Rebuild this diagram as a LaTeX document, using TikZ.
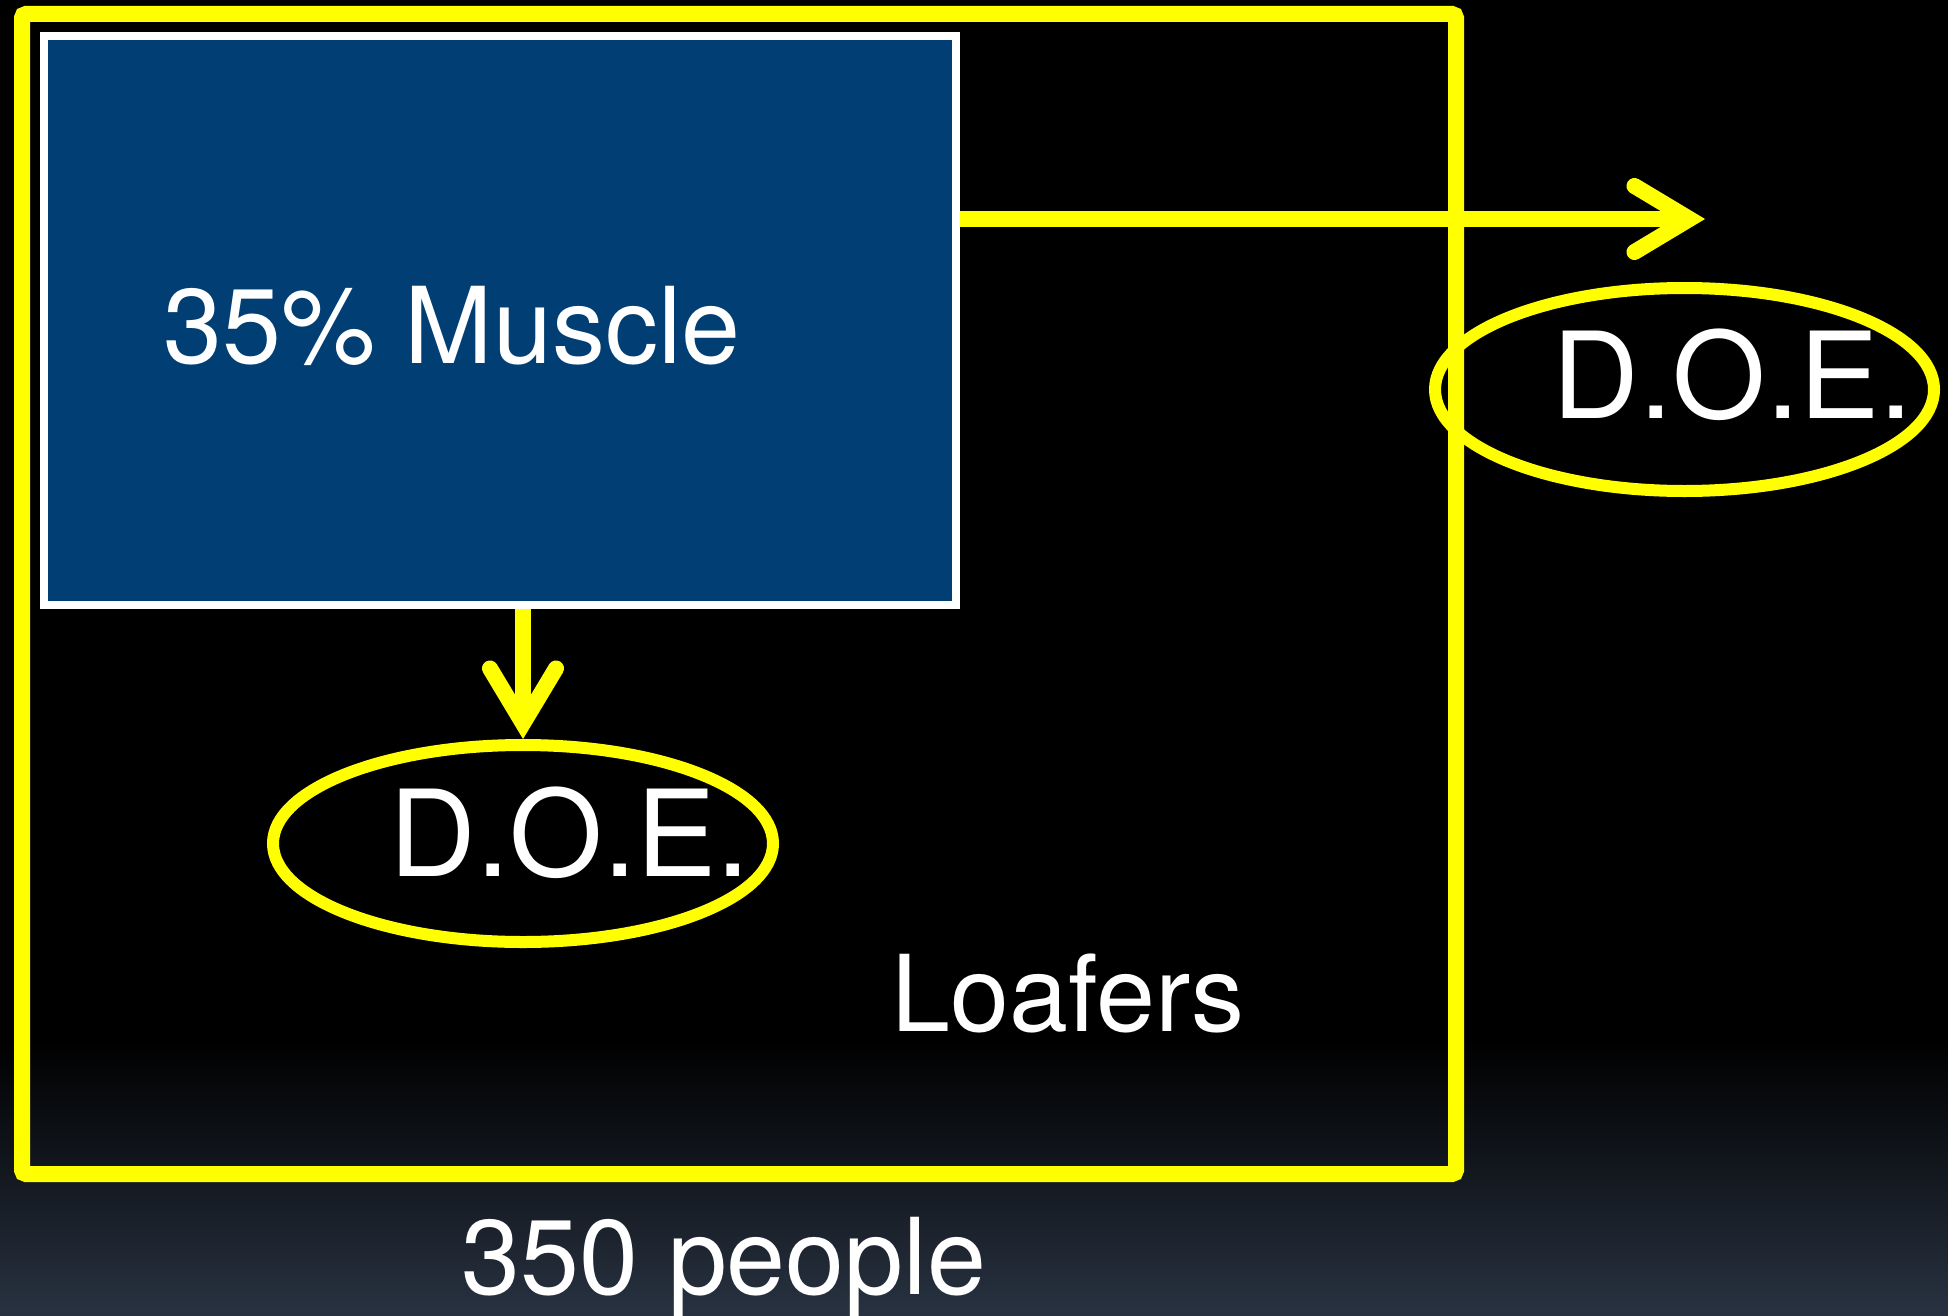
\documentclass[tikz,border=0pt]{standalone}
\usepackage{fontspec}
\setmainfont{TeX Gyre Heros}
\usetikzlibrary{arrows.meta,shapes.geometric}
\definecolor{doeyellow}{RGB}{255,255,0}
\definecolor{musclebg}{RGB}{0,62,116}
\definecolor{bgbottom}{RGB}{40,50,65}
\begin{document}
\begin{tikzpicture}[x=1pt,y=-1pt,
  popframe/.style={draw=doeyellow, line width=16pt, rounded corners=4pt, inner sep=0pt,
    minimum width=1434pt, minimum height=1160pt},
  musclebox/.style={draw=white, line width=8pt, fill=musclebg, inner sep=0pt,
    minimum width=912pt, minimum height=569pt},
  doeellipse/.style={ellipse, draw=doeyellow, line width=12pt, inner sep=0pt},
  flow/.style={draw=doeyellow, line width=16pt,
    -{Straight Barb[length=55pt,width=66pt,line cap=round,line join=miter]}},
  txt/.style={text=white, inner sep=0pt, anchor=base, font=\fontsize{106}{120}\selectfont},
  bigtxt/.style={txt, font=\fontsize{120}{140}\selectfont}
]
\useasboundingbox (0,0) rectangle (1948,1316);
\fill[black] (0,0) rectangle (1948,1041);
\shade[top color=black, bottom color=bgbottom] (0,1040) rectangle (1948,1316);

\node[popframe] (pop) at (739,594) {};
\node[musclebox] (muscle) at (500,320.5) {};
\node[doeellipse, minimum width=500pt, minimum height=197pt] (lowdoe) at (523,843.5) {};
\node[doeellipse, minimum width=499pt, minimum height=203pt] (rightdoe) at (1684.5,389.5) {};
\coordinate (tipR) at (1705,219);

\draw[flow] (muscle.east |- tipR) -- (tipR);
\draw[flow] (lowdoe.north |- muscle.south) -- (lowdoe.north);

\node[txt] (mtxt) at (452,363) {35\% Muscle};
\node[bigtxt] (rdoetxt) at (1733,418) {D.O.E.};
\node[bigtxt] (ldoetxt) at (570,876) {D.O.E.};
\node[txt] (loaf) at (1068,1031) {Loafers};
\node[txt] (ppl) at (724,1294) {350 people};
\end{tikzpicture}
\end{document}
